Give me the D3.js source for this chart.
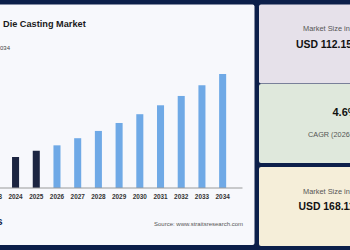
<!DOCTYPE html>
<html>
<head>
<meta charset="utf-8">
<script src="https://cdn.jsdelivr.net/npm/d3@7"></script>
<style>
  html, body { margin: 0; padding: 0; background: #0c1f4a; overflow: hidden; }
  svg { display: block; font-family: "Liberation Sans", Arial, sans-serif; }
</style>
</head>
<body>
<svg id="chart" width="350" height="250"></svg>
<script>
// data (USD billion)
const years = ["2023", "2024", "2025", "2026", "2027", "2028", "2029", "2030", "2031", "2032", "2033", "2034"];
const values = [102.5, 107.6, 112.15, 116.1, 121.3, 126.6, 132.4, 138.8, 145.3, 152.1, 159.9, 168.11];
const historic = ["2023", "2024", "2025"];
const cards = [
  {label: "Market Size in 2025", value: "USD 112.15 Billion", bg: "#e6e1ea"},
  {label: "CAGR (2026-2034)", value: "4.6%", bg: "#dfe8dc"},
  {label: "Market Size in 2034", value: "USD 168.11 Billion", bg: "#f5eed9"}
];

const svg = d3.select("#chart");

// main white panel
svg.append("rect").attr("x", -10).attr("y", 4.5).attr("width", 264.5).attr("height", 240.5)
  .attr("rx", 2).attr("fill", "#f7f8fc");

svg.append("text").attr("x", 3).attr("y", 26.5)
  .attr("font-size", 9.2).attr("font-weight", "bold").attr("fill", "#1a1a1a")
  .text("Die Casting Market");
svg.append("text").attr("x", 0).attr("y", 50)
  .attr("font-size", 6).attr("fill", "#444")
  .text("034");

// bars
const x = d3.scaleBand().domain(years).range([-15.5, 233]).paddingInner(0.66).paddingOuter(0.33);
const y = d3.scaleLinear().domain([85, 168.11]).range([188, 74]);

svg.append("g").selectAll("rect").data(years).join("rect")
  .attr("x", d => x(d))
  .attr("width", x.bandwidth())
  .attr("y", (d, i) => y(values[i]))
  .attr("height", (d, i) => 188 - y(values[i]))
  .attr("fill", d => historic.includes(d) ? "#1c2541" : "#6fa9e6");

const axis = svg.append("g").attr("transform", "translate(0,188)")
  .call(d3.axisBottom(x).tickSize(0).tickPadding(6));
axis.select(".domain").attr("d", "M-20,0H242.5").attr("stroke", "#9a9a9a").attr("stroke-width", 1.2);
axis.selectAll("text").attr("font-size", 6.4).attr("font-weight", "bold")
  .attr("fill", "#333").attr("font-family", "Liberation Sans, Arial, sans-serif");

// footer
svg.append("text").attr("x", -3).attr("y", 225)
  .attr("font-size", 10).attr("font-weight", "bold").attr("fill", "#14224a")
  .text("s");
svg.append("text").attr("x", 243).attr("y", 225.5).attr("text-anchor", "end")
  .attr("font-size", 6).attr("fill", "#555")
  .text("Source: www.straitsresearch.com");

// right side cards
const cardY = [4.5, 84, 167];
const card = svg.append("g").selectAll("g").data(cards).join("g")
  .attr("transform", (d, i) => `translate(259,${cardY[i]})`);
card.append("rect").attr("width", 110).attr("height", 79).attr("rx", 2).attr("fill", d => d.bg);

card.filter((d, i) => i !== 1).append("text").attr("x", 44).attr("y", 26.5)
  .attr("font-size", 7.4).attr("fill", "#555").text(d => d.label);
card.filter((d, i) => i !== 1).append("text").attr("x", (d, i) => i === 0 ? 37 : 39.5).attr("y", 43)
  .attr("font-size", 10.4).attr("font-weight", "bold").attr("fill", "#111").text(d => d.value);

card.filter((d, i) => i === 1).append("text").attr("x", 73.5).attr("y", 32)
  .attr("font-size", 11).attr("font-weight", "bold").attr("fill", "#111").text(d => d.value);
card.filter((d, i) => i === 1).append("text").attr("x", 49).attr("y", 52.5)
  .attr("font-size", 7.3).attr("fill", "#555").text(d => d.label);
</script>
</body>
</html>
